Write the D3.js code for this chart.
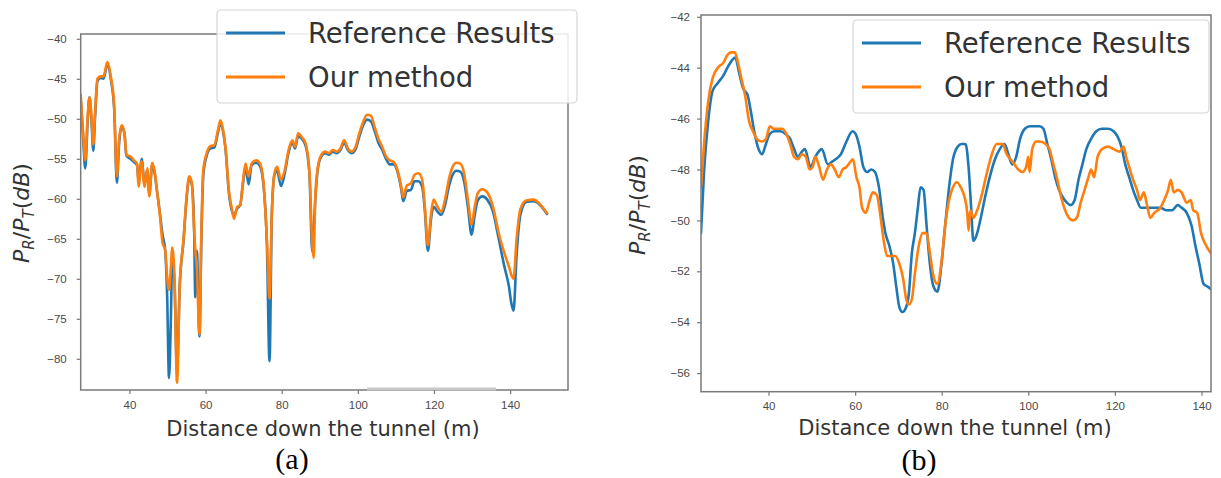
<!DOCTYPE html>
<meta charset="utf-8">
<style>
body { margin: 0; background: #fff; }
svg { display: block; font-family: "DejaVu Sans", sans-serif; }
.axis path { display: none; }
.axis line { stroke: #777; stroke-width: 1.2; }
.axis text { fill: #4a4a4a; font-size: 11.5px; }
.frame { fill: none; stroke: #7a7a7a; stroke-width: 1.5; }
.curve { fill: none; stroke-width: 2.6; stroke-linejoin: round; stroke-linecap: round; }
.ref { stroke: #1f77b4; }
.ours { stroke: #ff7f0e; }
.legend rect { fill: #fff; fill-opacity: 0.85; stroke: #d6d6d6; stroke-width: 1.2; }
.legend text { fill: #333; font-size: 27.5px; }
.xlabel { fill: #333; font-size: 21px; }
.ylabel { fill: #333; font-size: 22px; }
.caption { font-family: "Liberation Serif", serif; font-size: 30px; fill: #000; }
</style>
<body>
<script src="https://d3js.org/d3.v7.min.js"></script>
<script>

var width = 1221,
    height = 478;

var seriesNames = ["Reference Results", "Our method"];

// (a) left panel, both curves share the distance samples
var leftX = [27.2,27.8,28.4,29.0,29.5,30.0,30.5,31.0,31.6,32.4,
  33.2,34.2,35.2,36.0,36.7,37.3,38.0,38.7,39.2,40.2,
  41.2,42.0,42.4,43.2,44.0,44.7,45.2,46.0,46.7,47.2,
  48.0,48.7,49.4,49.9,50.4,50.9,51.2,51.8,52.5,53.2,
  54.2,55.1,55.7,56.4,57.0,57.3,57.7,58.4,58.9,59.4,
  60.3,61.3,62.3,63.3,63.9,64.6,65.3,66.1,66.8,67.5,
  68.3,69.1,69.8,70.5,71.3,72.1,73.3,74.3,75.3,76.1,
  76.8,77.4,78.1,78.8,79.8,80.8,81.8,82.8,83.5,84.3,
  85.3,86.3,87.3,88.0,88.4,88.8,89.5,90.4,91.4,92.4,
  93.4,94.4,95.4,96.4,97.4,98.4,99.4,100.4,101.4,102.4,
  103.4,104.4,105.4,106.4,107.4,108.4,109.4,110.4,111.4,111.9,
  112.9,113.9,114.9,115.9,116.9,117.6,118.4,119.2,119.9,120.9,
  121.9,122.9,123.9,124.9,125.9,126.9,127.9,128.9,129.9,130.7,
  131.5,132.7,134.0,135.5,137.0,138.5,139.7,140.3,140.9,141.7,
  142.7,144.2,146.2,147.7,149.7];
var leftRef = [-47.5,-52.0,-56.2,-50.5,-47.3,-50.0,-54.0,-49.5,-45.3,-44.9,
  -45.0,-43.2,-45.3,-48.8,-58.0,-53.0,-50.9,-51.9,-54.6,-55.0,
  -55.4,-55.8,-57.8,-55.0,-58.2,-56.4,-59.5,-55.7,-57.0,-58.8,
  -61.8,-64.5,-66.5,-72.0,-82.4,-74.7,-68.0,-70.0,-81.4,-71.0,
  -65.3,-59.5,-57.4,-58.2,-64.0,-72.3,-66.5,-77.2,-65.0,-57.0,
  -54.6,-53.7,-53.6,-51.6,-50.5,-51.6,-54.1,-59.1,-61.3,-62.0,
  -61.2,-60.8,-58.2,-56.0,-58.2,-55.8,-55.5,-55.9,-58.7,-65.5,
  -80.3,-62.0,-57.0,-56.5,-58.4,-56.8,-54.2,-53.0,-53.7,-52.2,
  -52.5,-53.4,-57.0,-66.6,-64.0,-60.3,-56.2,-54.7,-54.3,-54.5,
  -54.1,-54.3,-53.9,-53.0,-53.9,-54.3,-53.8,-52.2,-50.8,-50.1,
  -50.3,-51.5,-53.0,-53.9,-55.0,-55.7,-55.7,-56.6,-58.8,-60.3,
  -59.0,-58.9,-57.8,-57.8,-58.5,-61.5,-66.5,-62.6,-61.0,-61.6,
  -62.0,-60.8,-58.5,-57.0,-56.5,-56.6,-57.8,-61.0,-64.5,-62.0,
  -60.2,-59.7,-60.1,-61.6,-65.0,-68.5,-71.0,-73.0,-74.0,-67.0,
  -62.0,-60.4,-60.3,-60.7,-61.9];
var leftOurs = [-47.0,-51.5,-55.2,-50.0,-47.3,-49.5,-53.2,-49.0,-45.0,-44.7,
  -44.7,-42.9,-45.0,-48.5,-57.2,-52.5,-50.8,-51.8,-54.5,-54.7,
  -55.2,-55.6,-58.5,-55.3,-58.5,-56.2,-59.7,-55.5,-56.8,-58.9,
  -62.0,-65.5,-66.4,-69.7,-71.4,-68.5,-66.1,-69.3,-83.0,-71.0,
  -65.1,-59.3,-57.2,-58.0,-63.9,-66.4,-68.5,-77.0,-64.0,-56.4,
  -54.3,-53.4,-53.3,-51.3,-50.2,-51.4,-53.9,-58.9,-61.0,-62.5,
  -61.0,-60.8,-57.9,-55.6,-57.2,-55.6,-55.2,-55.6,-58.5,-65.1,
  -72.5,-61.8,-56.8,-56.0,-57.6,-56.4,-53.9,-52.7,-53.5,-51.8,
  -52.3,-53.1,-56.8,-65.5,-67.4,-60.1,-56.0,-54.5,-54.1,-54.3,
  -53.9,-54.1,-53.7,-52.7,-53.7,-54.1,-53.5,-51.8,-50.4,-49.5,
  -49.6,-51.0,-52.5,-53.5,-54.7,-55.2,-55.4,-56.4,-58.5,-59.8,
  -58.3,-58.1,-57.0,-56.8,-57.6,-61.0,-65.8,-62.0,-60.1,-61.0,
  -61.6,-60.1,-57.6,-56.0,-55.5,-55.6,-56.8,-60.1,-63.2,-61.0,
  -59.3,-58.8,-59.2,-61.0,-64.3,-66.8,-68.5,-69.5,-70.0,-65.0,
  -61.3,-60.2,-60.1,-60.6,-61.8];

// (b) right panel
var rightRefX = [24.4,25.1,26.0,27.1,28.3,29.6,30.5,31.6,32.3,33.2,
  34.1,35.2,35.9,36.8,37.7,38.5,39.4,40.3,41.4,42.7,
  43.9,45.0,45.9,46.8,47.7,48.4,49.7,50.8,52.3,53.7,
  54.6,55.5,56.7,58.0,59.4,60.1,61.0,61.9,62.8,63.7,
  64.6,65.5,66.4,67.0,67.9,68.8,69.5,70.2,70.9,71.8,
  72.4,73.1,73.8,74.5,75.1,75.8,76.5,77.2,78.1,79.0,
  79.9,80.8,81.7,82.6,83.7,84.6,85.5,86.2,86.8,87.3,
  88.0,88.9,90.0,91.1,92.3,93.4,94.5,95.4,96.3,97.2,
  98.1,99.2,100.4,101.7,102.6,103.5,104.4,105.3,106.2,107.1,
  108.0,108.9,109.8,110.7,111.6,112.5,113.4,114.5,115.7,117.0,
  118.4,119.7,120.6,121.5,122.4,123.3,124.2,125.1,126.0,127.3,
  128.7,130.5,131.8,133.2,134.5,135.4,136.6,137.7,138.6,139.5,
  140.5,141.4,142.2];
var rightRef = [-50.5,-48.1,-46.2,-44.9,-44.6,-44.3,-44.0,-43.7,-43.6,-44.2,
  -44.8,-45.1,-45.7,-46.6,-47.2,-47.4,-47.0,-46.6,-46.5,-46.5,
  -46.6,-46.8,-47.2,-47.5,-47.3,-47.2,-47.9,-47.5,-47.2,-47.8,
  -47.7,-47.6,-47.4,-46.9,-46.5,-46.6,-47.1,-47.9,-48.1,-48.0,
  -48.1,-48.7,-49.9,-50.5,-51.0,-51.7,-52.6,-53.4,-53.6,-53.4,
  -52.9,-51.3,-50.5,-49.5,-48.7,-48.8,-50.2,-51.6,-52.6,-52.8,
  -51.8,-50.2,-48.7,-47.6,-47.1,-47.0,-47.0,-47.9,-49.5,-50.8,
  -50.6,-50.0,-49.1,-48.3,-47.6,-47.2,-47.0,-47.4,-47.8,-47.5,
  -46.8,-46.4,-46.3,-46.3,-46.3,-46.4,-47.0,-47.6,-48.3,-48.8,
  -49.1,-49.3,-49.4,-49.2,-48.4,-47.8,-47.2,-46.8,-46.5,-46.4,
  -46.4,-46.5,-46.7,-47.1,-47.8,-48.3,-48.8,-49.2,-49.5,-49.5,
  -49.5,-49.5,-49.6,-49.6,-49.4,-49.5,-49.7,-50.2,-51.0,-51.7,
  -52.5,-52.6,-52.7];
var rightOursX = [24.4,25.1,26.0,27.1,28.3,29.6,30.5,31.4,32.2,32.8,
  33.7,34.6,35.5,36.4,37.3,38.5,39.4,40.3,41.2,42.1,
  43.2,44.1,45.0,45.9,46.8,47.7,48.6,49.5,50.2,50.8,
  51.7,52.6,53.5,54.4,55.3,56.2,57.1,58.0,58.9,59.5,
  60.3,61.0,61.6,62.5,63.2,64.1,65.0,65.9,66.6,67.5,
  68.4,69.3,70.2,71.1,71.8,72.4,73.1,73.8,74.7,75.6,
  76.5,77.2,78.1,79.0,79.9,80.8,81.7,82.6,83.5,84.4,
  85.3,85.9,86.2,86.6,87.3,88.2,89.1,90.2,91.4,92.7,
  94.1,95.0,95.9,96.8,97.7,98.6,99.5,100.0,100.3,100.9,
  101.8,102.6,104.0,104.9,105.8,106.7,107.6,108.5,109.4,110.3,
  111.2,112.1,113.0,113.9,114.5,115.2,116.0,117.0,118.4,119.7,
  121.1,122.0,122.6,123.3,124.2,125.1,125.8,126.7,127.3,128.2,
  129.1,130.5,131.4,132.3,132.9,133.6,134.5,135.4,136.6,137.5,
  138.1,139.0,139.9,140.8,142.2];
var rightOurs = [-48.7,-47.0,-45.4,-44.4,-44.0,-43.8,-43.5,-43.4,-43.4,-43.7,
  -44.4,-45.1,-46.1,-46.5,-46.8,-46.9,-46.8,-46.3,-46.4,-46.4,
  -46.4,-46.6,-47.0,-47.5,-47.6,-47.4,-47.5,-48.0,-47.9,-47.5,
  -47.9,-48.4,-48.0,-47.8,-48.0,-48.3,-48.0,-47.9,-47.7,-47.6,
  -48.3,-48.7,-49.5,-49.7,-49.3,-48.9,-49.0,-49.9,-50.8,-51.4,
  -51.4,-51.4,-51.7,-52.3,-53.1,-53.3,-53.1,-52.1,-51.0,-50.5,
  -50.5,-51.2,-52.2,-52.5,-51.7,-50.2,-49.2,-48.7,-48.5,-48.7,
  -49.1,-49.7,-50.4,-49.6,-49.9,-49.6,-49.1,-48.3,-47.5,-47.0,
  -47.0,-47.4,-47.6,-47.8,-48.0,-48.1,-47.9,-47.5,-48.1,-47.2,
  -46.9,-46.9,-47.0,-47.2,-47.8,-48.4,-49.1,-49.6,-49.9,-50.0,
  -49.9,-49.3,-48.8,-48.3,-48.0,-48.3,-47.5,-47.2,-47.1,-47.2,
  -47.3,-47.1,-47.5,-47.9,-48.4,-48.8,-49.2,-48.9,-49.3,-49.9,
  -49.7,-49.5,-49.2,-48.8,-48.4,-48.9,-48.8,-48.9,-49.3,-49.2,
  -49.6,-49.7,-50.5,-50.9,-51.3];

var leftXTicks = [40, 60, 80, 100, 120, 140];
var leftYTicks = [-80, -75, -70, -65, -60, -55, -50, -45, -40];
var rightXTicks = [40, 60, 80, 100, 120, 140];
var rightYTicks = [-56, -54, -52, -50, -48, -46, -44, -42];
var xTitle = "Distance down the tunnel (m)";
var captions = ["(a)", "(b)"];

var svg = d3.select("body").append("svg")
    .attr("width", width)
    .attr("height", height);

var panels = [
  { id: "a", refX: leftX, ref: leftRef, oursX: leftX, ours: leftOurs,
    xDomain: [27.2, 155.2], yDomain: [-83.9, -39.4],
    left: 80.7, right: 568, top: 34, bottom: 390,
    xTicks: leftXTicks, yTicks: leftYTicks, xPad: 7, yPad: 10,
    legend: { x: 217, y: 10, w: 360, h: 93 },
    xlab: { x: 323, y: 436 }, ylab: { x: 29, y: 213 },
    cap: { x: 292, y: 469, text: captions[0] },
    flaw: [367, 496] },
  { id: "b", refX: rightRefX, ref: rightRef, oursX: rightOursX, ours: rightOurs,
    xDomain: [24.4, 142.2], yDomain: [-56.73, -41.93],
    left: 701, right: 1211, top: 15, bottom: 391.7,
    xTicks: rightXTicks, yTicks: rightYTicks, xPad: 6, yPad: 7,
    legend: { x: 853, y: 20, w: 356, h: 93 },
    xlab: { x: 955, y: 435 }, ylab: { x: 645, y: 205 },
    cap: { x: 919, y: 470, text: captions[1] } }
];

panels.forEach(drawPanel);

function drawPanel(p) {
  var x = d3.scaleLinear().domain(p.xDomain).range([p.left, p.right]);
  var y = d3.scaleLinear().domain(p.yDomain).range([p.bottom, p.top]);
  var g = svg.append("g").attr("class", "panel-" + p.id);

  g.append("clipPath").attr("id", "clip-" + p.id)
    .append("rect")
      .attr("x", p.left).attr("y", p.top)
      .attr("width", p.right - p.left).attr("height", p.bottom - p.top);

  var line = d3.line()
      .curve(d3.curveMonotoneX)
      .x(function(d) { return x(d[0]); })
      .y(function(d) { return y(d[1]); });

  var plot = g.append("g").attr("clip-path", "url(#clip-" + p.id + ")");
  plot.append("path").datum(d3.zip(p.refX, p.ref))
      .attr("class", "curve ref").attr("d", line);
  plot.append("path").datum(d3.zip(p.oursX, p.ours))
      .attr("class", "curve ours").attr("d", line);

  g.append("rect").attr("class", "frame")
      .attr("x", p.left).attr("y", p.top)
      .attr("width", p.right - p.left).attr("height", p.bottom - p.top);

  // faint scan artefact on the bottom spine of (a)
  if (p.flaw) {
    g.append("line")
      .attr("x1", p.flaw[0]).attr("x2", p.flaw[1])
      .attr("y1", p.bottom - 1).attr("y2", p.bottom - 1)
      .style("stroke", "#c8c8c8").style("stroke-width", 3);
  }

  g.append("g").attr("class", "axis")
      .attr("transform", "translate(0," + p.bottom + ")")
      .call(d3.axisBottom(x).tickValues(p.xTicks).tickSize(4).tickPadding(p.xPad).tickSizeOuter(0));

  g.append("g").attr("class", "axis")
      .attr("transform", "translate(" + p.left + ",0)")
      .call(d3.axisLeft(y).tickValues(p.yTicks).tickSize(4).tickPadding(p.yPad).tickSizeOuter(0));

  g.append("text").attr("class", "xlabel")
      .attr("x", p.xlab.x).attr("y", p.xlab.y)
      .attr("text-anchor", "middle")
      .text(xTitle);

  var lab = g.append("text").attr("class", "ylabel")
      .attr("transform", "translate(" + p.ylab.x + "," + p.ylab.y + ") rotate(-90)")
      .attr("text-anchor", "middle");
  lab.append("tspan").style("font-style", "italic").text("P");
  lab.append("tspan").attr("dy", 5).style("font-size", "15px").style("font-style", "italic").text("R");
  lab.append("tspan").attr("dy", -5).text("/");
  lab.append("tspan").style("font-style", "italic").text("P");
  lab.append("tspan").attr("dy", 5).style("font-size", "15px").style("font-style", "italic").text("T");
  lab.append("tspan").attr("dy", -5).text("(");
  lab.append("tspan").style("font-style", "italic").text("dB");
  lab.append("tspan").text(")");

  var L = p.legend;
  var lg = g.append("g").attr("class", "legend");
  lg.append("rect")
      .attr("x", L.x).attr("y", L.y).attr("width", L.w).attr("height", L.h)
      .attr("rx", 4).attr("ry", 4);
  var rows = lg.selectAll("g.item")
      .data(seriesNames)
    .enter().append("g").attr("class", "item")
      .attr("transform", function(d, i) { return "translate(" + L.x + "," + (L.y + 23 + i * 44) + ")"; });
  rows.append("line")
      .attr("x1", 9).attr("x2", 68).attr("y1", 0).attr("y2", 0)
      .style("stroke", function(d, i) { return i === 0 ? "#1f77b4" : "#ff7f0e"; })
      .style("stroke-width", 3.2);
  rows.append("text")
      .attr("x", 91).attr("y", 10)
      .text(function(d) { return d; });

  g.append("text").attr("class", "caption")
      .attr("x", p.cap.x).attr("y", p.cap.y)
      .attr("text-anchor", "middle")
      .text(p.cap.text);
}

</script>
